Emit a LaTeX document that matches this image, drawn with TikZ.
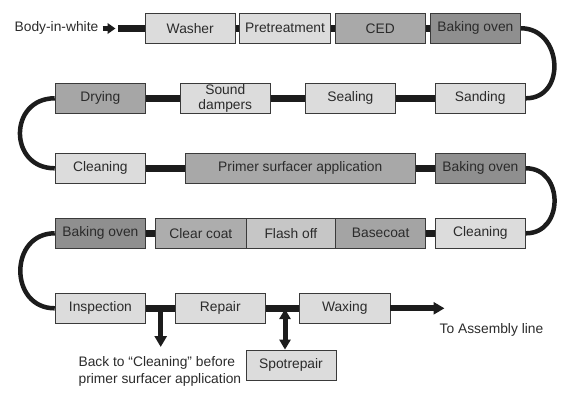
\documentclass[tikz,border=0pt]{standalone}
\usepackage{fontspec}
\setmainfont{Liberation Sans}
\usetikzlibrary{arrows.meta}
\definecolor{boxlight}{HTML}{DCDCDC}
\definecolor{boxced}{HTML}{A9A9A9}
\definecolor{boxbake}{HTML}{8F8F8F}
\definecolor{boxdry}{HTML}{A6A6A6}
\definecolor{boxprimer}{HTML}{A8A8A8}
\definecolor{boxclear}{HTML}{ADADAD}
\definecolor{boxflash}{HTML}{C6C6C6}
\definecolor{boxbase}{HTML}{A4A4A4}
\definecolor{txt}{HTML}{2B2B2B}
\definecolor{barc}{HTML}{1C1C1C}
\definecolor{edge}{HTML}{3A3A3A}
\begin{document}
\begin{tikzpicture}[x=1pt,y=-1pt,
  stepbox/.style={draw=edge,line width=0.8pt,fill=boxlight,minimum width=90.5pt,minimum height=30pt,
    inner sep=0pt,text=txt,font=\fontsize{13.8}{14.5}\selectfont,align=center},
  lbl/.style={text=txt,font=\fontsize{13.8}{17}\selectfont,inner sep=0pt},
  bar/.style={draw=barc,line width=6.5pt},
  loopline/.style={draw=barc,line width=4.5pt},
  arr/.style={draw=barc,line width=6pt,-{Triangle[length=11pt,width=12pt]}},
]
\useasboundingbox (0,0) rectangle (572,409);
% row 1
\node[lbl,anchor=east] (biw) at (98.5,27.5) {Body-in-white};
\node[stepbox] (washer) at (190.25,28.3) {Washer};
\node[stepbox] (pretreat) at (285.1,28.3) {Pretreatment};
\node[stepbox,fill=boxced] (ced) at (380.3,28.3) {CED};
\node[stepbox,fill=boxbake] (bake1) at (475.4,28.3) {Baking oven};
% row 2
\node[stepbox,fill=boxdry] (drying) at (100.4,98.3) {Drying};
\node[stepbox] (sound) at (225.3,98.3) {Sound\\dampers};
\node[stepbox] (sealing) at (350.4,98.3) {Sealing};
\node[stepbox] (sanding) at (480.2,98.3) {Sanding};
% row 3
\node[stepbox] (clean1) at (100.4,168.3) {Cleaning};
\node[stepbox,fill=boxprimer,minimum width=230pt] (primer) at (300.3,168.3) {Primer surfacer application};
\node[stepbox,fill=boxbake] (bake2) at (480.4,168.3) {Baking oven};
% row 4
\node[stepbox,fill=boxbake] (bake3) at (100.4,233.3) {Baking oven};
\node[stepbox,fill=boxclear,minimum width=90.3pt] (clear) at (200.85,233.3) {Clear coat};
\node[stepbox,fill=boxflash,minimum width=89.7pt] (flash) at (290.85,233.3) {Flash off};
\node[stepbox,fill=boxbase,minimum width=90pt] (base) at (380.7,233.3) {Basecoat};
\node[stepbox] (clean2) at (480.4,233.3) {Cleaning};
% row 5
\node[stepbox] (inspect) at (100.4,308.3) {Inspection};
\node[stepbox] (repair) at (220.3,308.3) {Repair};
\node[stepbox] (waxing) at (344.8,308.3) {Waxing};
\node[stepbox,minimum width=90pt] (spot) at (291,365) {Spotrepair};
\node[lbl,anchor=west,align=left] (back) at (78.4,371.5) {Back to “Cleaning” before\\primer surfacer application};
\node[lbl] (assembly) at (491.5,330) {To Assembly line};
% coordinates
\coordinate (biwa) at (102.5,28.5);
\coordinate (biwb) at (115.5,28.5);
\coordinate (biwc) at (118.3,28.3);
\coordinate (downa) at (160.7,308.3);
\coordinate (downb) at (160.7,347);
\coordinate (dbl) at (285,309);
\coordinate (endarr) at (444.5,308.3);
% entry arrow
\draw[draw=barc,line width=4.5pt,-{Triangle[length=8pt,width=10.5pt]}] (biwa) -- (biwb);
\draw[bar] (biwc) -- (washer.west);
% bars
\draw[bar] (washer.east) -- (pretreat.west);
\draw[bar] (pretreat.east) -- (ced.west);
\draw[bar] (ced.east) -- (bake1.west);
\draw[bar] (drying.east) -- (sound.west);
\draw[bar] (sound.east) -- (sealing.west);
\draw[bar] (sealing.east) -- (sanding.west);
\draw[bar] (clean1.east) -- (primer.west);
\draw[bar] (primer.east) -- (bake2.west);
\draw[bar] (bake3.east) -- (clear.west);
\draw[bar] (base.east) -- (clean2.west);
\draw[bar] (inspect.east) -- (repair.west);
\draw[bar] (repair.east) -- (waxing.west);
% loops
\draw[loopline] (bake1.east) to[out=0,in=0,looseness=1.5] (sanding.east);
\draw[loopline] (drying.west) to[out=180,in=180,looseness=1.7] (clean1.west);
\draw[loopline] (bake2.east) to[out=0,in=0,looseness=1.5] (clean2.east);
\draw[loopline] (bake3.west) to[out=180,in=180,looseness=1.57] (inspect.west);
% output arrows
\draw[arr] (waxing.east) -- (endarr);
\draw[arr,line width=5.5pt] (downa) -- (downb);
\draw[draw=barc,line width=5pt,{Triangle[length=10pt,width=11pt]}-{Triangle[length=10pt,width=11pt]}] (dbl) -- (spot.north -| dbl);
\end{tikzpicture}
\end{document}
